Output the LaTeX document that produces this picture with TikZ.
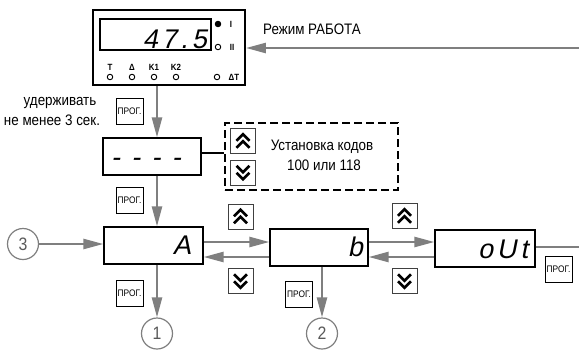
\documentclass[tikz,border=0pt]{standalone}
\usepackage{fontspec}
\setmainfont{Liberation Sans}[FakeStretch=0.88]
\newfontfamily\segfont{Liberation Sans}[FakeSlant=0.2,LetterSpace=14]
\usetikzlibrary{arrows.meta}
\definecolor{cg}{HTML}{7F7F7F}
\tikzset{
 conn/.style={draw=cg, line width=2.4pt, -{Triangle[length=20pt,width=10pt]}},
 plainline/.style={draw=cg, line width=2.4pt},
 box/.style={draw, line width=1.2pt, inner sep=0pt},
 prog/.style={draw, line width=0.9pt, minimum width=27pt, minimum height=26pt, inner sep=0pt, font=\fontsize{9.5}{10}\selectfont},
 btn/.style={draw=black!75, line width=0.9pt, minimum size=25pt, inner sep=0pt},
 numc/.style={circle, draw=cg, line width=1.2pt, minimum size=31pt, inner sep=0pt, text=black!65, font=\fontsize{18}{20}\selectfont},
 lbl/.style={font=\fontsize{15.2}{17}\selectfont, inner sep=0pt},
 small/.style={font=\bfseries\fontsize{9}{10}\selectfont, inner sep=0pt},
 led/.style={circle, draw, line width=0.9pt, minimum size=5.5pt, inner sep=0pt},
 seg/.style={font=\segfont\fontsize{27}{30}\selectfont, inner sep=0pt, anchor=base east},
 chev/.style={line width=2.5pt, line cap=butt, line join=miter},
 pics/upch/.style={code={
   \draw[chev] (-6.5,-0.25)--(0,-6.75)--(6.5,-0.25);
   \draw[chev] (-6.5,6.75)--(0,0.25)--(6.5,6.75);}},
 pics/dnch/.style={code={
   \draw[chev] (-6.5,0.25)--(0,6.75)--(6.5,0.25);
   \draw[chev] (-6.5,-6.75)--(0,-0.25)--(6.5,-6.75);}},
}
\begin{document}
\begin{tikzpicture}[x=1pt,y=-1pt]
\path[fill=white] (0,0) rectangle (579,349);
\useasboundingbox (0,0) rectangle (579,349);

% device
\node[box, line width=1.8pt, minimum width=152pt, minimum height=75pt] (dev) at (169,47.5) {};
\node[box, line width=1.3pt, minimum width=111pt, minimum height=31pt] (disp) at (155.5,34.5) {};
\node[seg] (v475) at (207,48) {47.5};
\node[led, fill=black] (ld1) at (218,24) {};
\node[small] (li1) at (231,24) {I};
\node[led] (ld2) at (218,47) {};
\node[small] (li2) at (232,47) {II};
\node[small] (tT) at (110,67) {T};
\node[small] (tD) at (132,67) {Δ};
\node[small] (tK1) at (154,67) {K1};
\node[small] (tK2) at (176,67) {K2};
\node[led] (lT) at (110,77) {};
\node[led] (lD) at (132,77) {};
\node[led] (lK1) at (154,77) {};
\node[led] (lK2) at (176,77) {};
\node[led] (lDT) at (217,77) {};
\node[small] (tDT) at (234,77) {ΔT};

\coordinate (rin) at (579,48);
\draw[conn] (rin) -- (rin -| dev.east);
\node[lbl] (mode) at (312,29) {Режим РАБОТА};

% hold
\node[lbl] (hold1) at (60,103) {удерживать};
\node[lbl] (hold2) at (52,120) {не менее 3 сек.};
\node[prog] (p1) at (129.5,111) {ПРОГ.};

\node[box, minimum width=98pt, minimum height=37pt] (dash) at (152,156.5) {};
\node[seg, anchor=base] (vdash) at (146,166) {- - - -};
\coordinate (ax) at (157,0);
\draw[conn] (dev.south -| ax) -- (dash.north -| ax);

% code group
\node[draw, line width=2pt, dash pattern=on 8pt off 4pt, minimum width=173pt, minimum height=67pt] (grp) at (311.5,156.5) {};
\coordinate (cy) at (0,153);
\draw[line width=1.3pt] (dash.east |- cy) -- (grp.west |- cy);
\node[btn] (gu) at (243,141) {};
\pic at (gu.center) {upch};
\node[btn] (gd) at (243,172.5) {};
\pic at (gd.center) {dnch};
\node[lbl] (gt1) at (322,147) {Установка кодов};
\node[lbl] (gt2) at (324,165) {100 или 118};

\node[prog] (p2) at (129.5,200) {ПРОГ.};

% main row
\node[box, minimum width=99pt, minimum height=37pt] (bA) at (153.5,245.5) {};
\node[seg] (vA) at (191,254) {A};
\node[box, minimum width=98pt, minimum height=37pt] (bB) at (319,247.5) {};
\node[seg] (vB) at (363,256) {b};
\node[box, minimum width=100pt, minimum height=37pt] (bO) at (485,248.5) {};
\node[seg] (vO) at (528,258) {oUt};

\draw[conn] (dash.south -| ax) -- (bA.north -| ax);

\node[numc] (c3) at (23,244) {3};
\node[numc] (c1) at (157,333.5) {1};
\node[numc] (c2) at (322,333.5) {2};

\draw[conn] (c3.east) -- (c3.east -| bA.west);
\draw[conn] (bA.south -| ax) -- (c1.north);
\draw[conn] (bB.south -| c2) -- (c2.north);

\coordinate (r1) at (0,242);
\coordinate (r2) at (0,257);
\draw[conn] (bA.east |- r1) -- (bB.west |- r1);
\draw[conn] (bB.west |- r2) -- (bA.east |- r2);
\draw[conn] (bB.east |- r1) -- (bO.west |- r1);
\draw[conn] (bO.west |- r2) -- (bB.east |- r2);
\coordinate (oend) at (579,247);
\draw[plainline] (bO.east |- oend) -- (oend);

\node[btn] (u1) at (240.5,216.5) {};
\pic at (u1.center) {upch};
\node[btn] (d1) at (240.5,281) {};
\pic at (d1.center) {dnch};
\node[btn] (u2) at (404.5,216) {};
\pic at (u2.center) {upch};
\node[btn] (d2) at (404.5,281) {};
\pic at (d2.center) {dnch};

\node[prog] (p3) at (129.5,293) {ПРОГ.};
\node[prog] (p4) at (299,294) {ПРОГ.};
\node[prog] (p5) at (558.5,269) {ПРОГ.};
\end{tikzpicture}
\end{document}
